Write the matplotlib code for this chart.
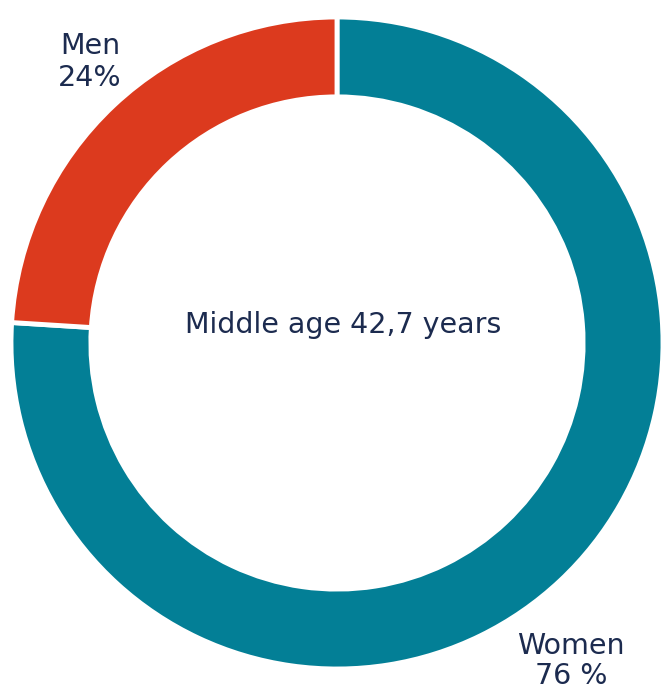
import matplotlib
matplotlib.use("Agg")
import matplotlib.pyplot as plt

categories = ["Women", "Men"]
values = [76, 24]
label_texts = ["Women\n76 %", "Men\n24%"]
center_text = "Middle age 42,7 years"
colors = ["#037F96", "#DC3A1E"]
text_color = "#1C2B4F"

W, H = 663, 693
fig = plt.figure(figsize=(W / 100, H / 100), dpi=100)
ax = fig.add_axes([0, 0, 1, 1])
ax.axis("off")

R = 326.0
cx, cy = 337.0, 343.0

ax.pie(values, colors=colors, startangle=90, counterclock=False, radius=1.0,
       wedgeprops=dict(width=0.245, edgecolor="white", linewidth=3.5))
ax.set_xlim(-cx / R, (W - cx) / R)
ax.set_ylim(-(H - cy) / R, cy / R)

font = ["DejaVu Sans"]
ax.text(0.02, 0.055, center_text, ha="center", va="center", fontsize=20.5,
        color=text_color, family=font)

def px(x, y):
    return ((x - cx) / R, (cy - y) / R)

ax.text(*px(90, 62), label_texts[1], ha="center", va="center", fontsize=20.5,
        color=text_color, family=font, linespacing=1.15)
ax.text(*px(571, 661), label_texts[0], ha="center", va="center", fontsize=20.5,
        color=text_color, family=font, linespacing=1.1)

fig.savefig("out.png", dpi=100)
